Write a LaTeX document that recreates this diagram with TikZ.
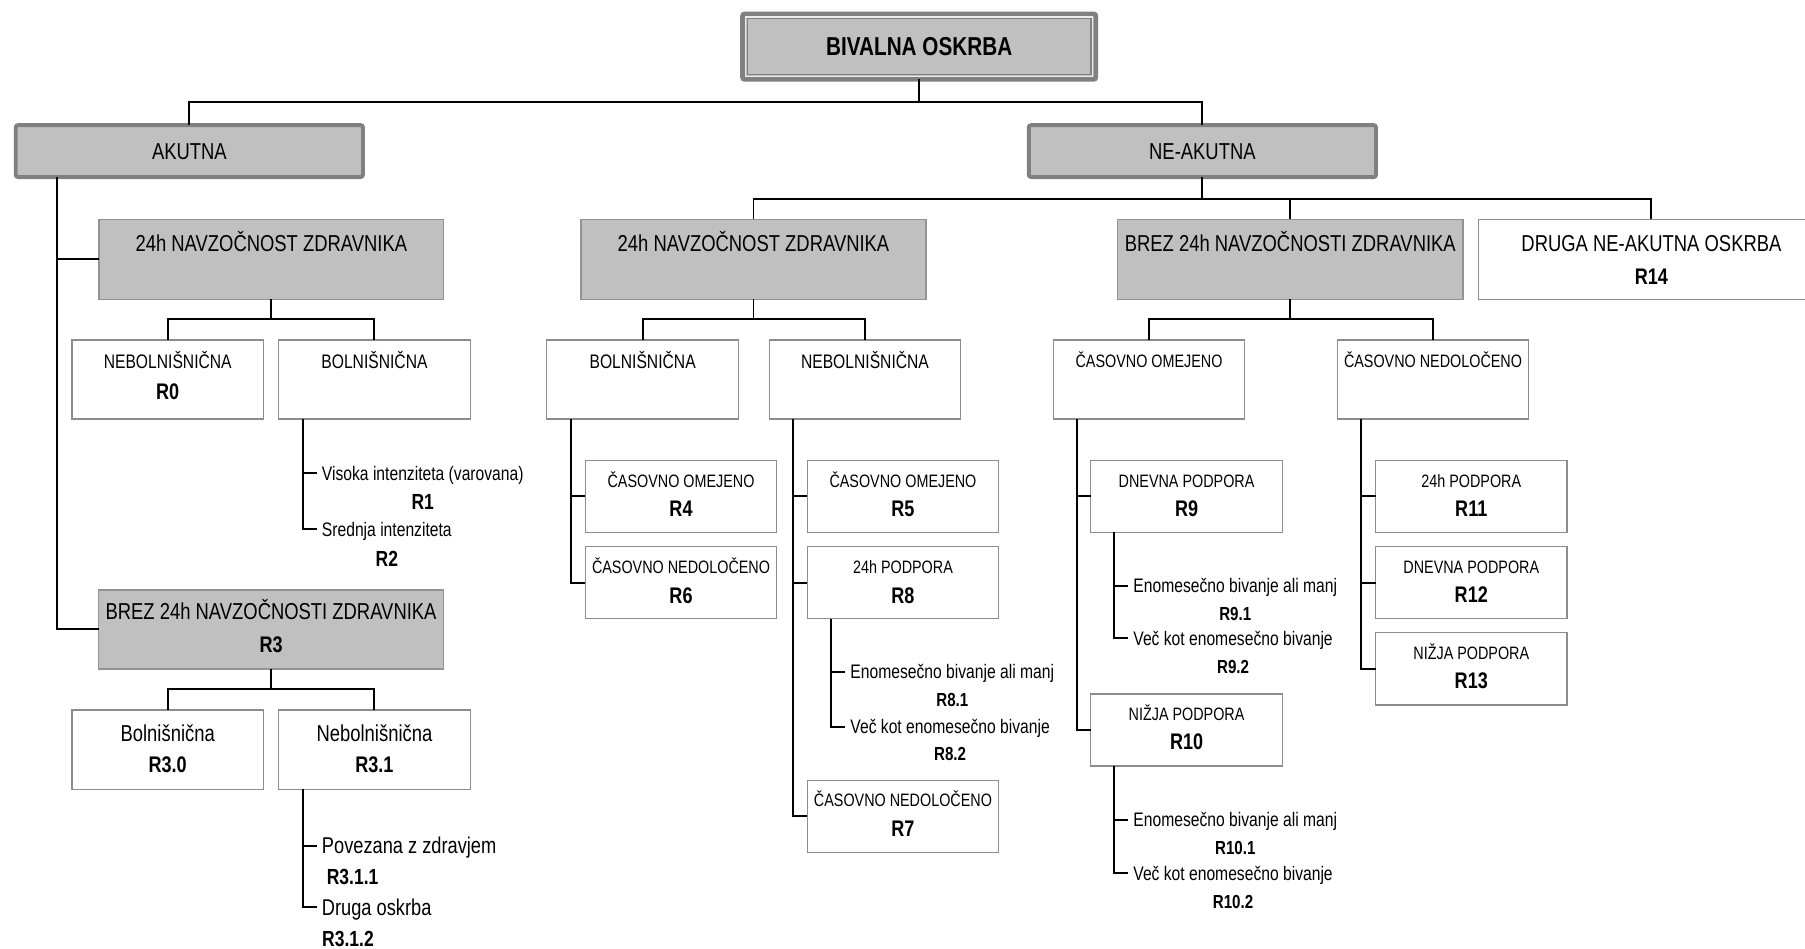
\documentclass[tikz,border=0pt]{standalone}
\usepackage{fontspec}
\setmainfont{Liberation Sans}[FakeStretch=0.8]
\usetikzlibrary{calc}
\definecolor{boxgray}{HTML}{C0C0C0}
\definecolor{edgegray}{HTML}{808080}
\definecolor{thingray}{HTML}{8C8C8C}
% \bx{name}{style}{x1}{y1}{x2}{y2}: empty box node spanning the given corners
\newcommand{\bx}[6]{\node[#2, minimum width={(#5-#3)*0.5pt}, minimum height={(#6-#4)*0.5pt}] (#1) at ({(#3+#5)/2},{(#4+#6)/2}) {};}
\begin{document}
\begin{tikzpicture}[x=0.5pt, y=-0.5pt,
  box/.style={rectangle, draw=thingray, line width=0.6pt, fill=white, inner sep=0pt, outer sep=0pt},
  gbox/.style={box, fill=boxgray, draw=edgegray!85},
  kbox/.style={box, fill=boxgray, draw=edgegray, line width=1.7pt, rounded corners=1pt},
  tbox/.style={box, fill=boxgray, draw=edgegray, line width=2pt, rounded corners=1pt},
  link/.style={draw=black, line width=0.85pt},
  fTitle/.style={font=\fontsize{11.25}{13}\selectfont\bfseries, text height=8.1pt, text depth=0pt, inner sep=0pt},
  fHdr/.style={font=\fontsize{10}{12}\selectfont, text height=7.16pt, text depth=0pt, inner sep=0pt},
  fMid/.style={font=\fontsize{8.5}{10}\selectfont, text height=6.09pt, text depth=0pt, inner sep=0pt},
  fSm/.style={font=\fontsize{7.8}{9}\selectfont, text height=5.58pt, text depth=0pt, inner sep=0pt},
  fR/.style={font=\fontsize{9.8}{11}\selectfont\bfseries, text height=7.02pt, text depth=0pt, inner sep=0pt},
  fRl/.style={font=\fontsize{9.5}{11}\selectfont\bfseries, text height=6.8pt, text depth=0pt, inner sep=0pt},
  fRs/.style={font=\fontsize{8.2}{10}\selectfont\bfseries, text height=5.87pt, text depth=0pt, inner sep=0pt},
  fLeaf/.style={font=\fontsize{8.5}{10}\selectfont, text height=6.09pt, text depth=0pt, inner ysep=0pt, inner xsep=2pt, anchor=west},
  fLeafB/.style={font=\fontsize{9.9}{12}\selectfont, text height=7.09pt, text depth=0pt, inner ysep=0pt, inner xsep=2pt, anchor=west}
]
\useasboundingbox (0,0) rectangle (1568,824);
\clip (0,0) rectangle (1568,824);
\fill[white] (0,0) rectangle (1568,824);

% ---------- boxes ----------
\bx{bival}{tbox}{645}{12}{952}{69}
\draw[white!92!black, line width=0.6pt] ($(bival.north west)+(2.8,2.8)$) rectangle ($(bival.south east)+(-2.8,-2.8)$);
\draw[edgegray, line width=0.5pt] ($(bival.north west)+(4.3,4.3)$) rectangle ($(bival.south east)+(-4.3,-4.3)$);

\bx{akut}{kbox}{13.7}{108.7}{315.3}{153.8}
\bx{neak}{kbox}{893.7}{108.7}{1195.3}{153.8}

\bx{a24}{gbox}{86}{190.5}{385.5}{260}
\bx{aNeb}{box}{62.7}{295.4}{228.7}{364}
\bx{aBol}{box}{242}{295.4}{408.6}{364}
\bx{aBrez}{gbox}{85.6}{512.5}{385.3}{581}
\bx{r30}{box}{62.7}{616.7}{228.7}{685.7}
\bx{r31}{box}{242}{616.7}{408.6}{685.7}

\bx{n24}{gbox}{504.7}{190.5}{804.4}{260}
\bx{nBrez}{gbox}{970.8}{190.5}{1270.9}{260}
\bx{druga}{box}{1284.6}{190.5}{1583.4}{260}

\bx{mBol}{box}{475}{295.4}{641.5}{364}
\bx{mNeb}{box}{668.3}{295.4}{834.5}{364}
\bx{r4}{box}{508.5}{399.9}{674.7}{462.4}
\bx{r6}{box}{508.5}{474.9}{674.7}{537.4}
\bx{r5}{box}{701.3}{399.9}{867.5}{462.4}
\bx{r8}{box}{701.3}{474.9}{867.5}{537.4}
\bx{r7}{box}{701.3}{677.9}{867.5}{740.4}

\bx{cOm}{box}{915}{295.4}{1081.3}{364}
\bx{cNed}{box}{1161.7}{295.4}{1328}{364}
\bx{r9}{box}{947.5}{399.9}{1114}{462.4}
\bx{r10}{box}{947.5}{602.9}{1114}{665.4}
\bx{r11}{box}{1195}{399.9}{1361.2}{462.4}
\bx{r12}{box}{1195}{474.9}{1361.2}{537.4}
\bx{r13}{box}{1195}{549.6}{1361.2}{612.4}

% ---------- box texts ----------
\node[fTitle] (bivalT) at (bival.center) {BIVALNA OSKRBA};
\node[fHdr] (akutT) at (akut.center) {AKUTNA};
\node[fHdr] (neakT) at (neak.center) {NE-AKUTNA};

\node[fHdr] (a24T) at ($(a24.north)+(0,20.5)$) {24h NAVZOČNOST ZDRAVNIKA};
\node[fMid] (aNebT) at ($(aNeb.north)+(0,18.6)$) {NEBOLNIŠNIČNA};
\node[fR]   (aNebR) at ($(aNeb.north)+(0,44.6)$) {R0};
\node[fMid] (aBolT) at ($(aBol.north)+(0,18.6)$) {BOLNIŠNIČNA};
\node[fHdr] (aBrezT) at ($(aBrez.north)+(0,18.5)$) {BREZ 24h NAVZOČNOSTI ZDRAVNIKA};
\node[fR]   (aBrezR) at ($(aBrez.north)+(0,47.5)$) {R3};
\node[fHdr] (r30T) at ($(r30.north)+(0,20.2)$) {Bolnišnična};
\node[fR]   (r30R) at ($(r30.north)+(0,47.2)$) {R3.0};
\node[fHdr] (r31T) at ($(r31.north)+(0,20.2)$) {Nebolnišnična};
\node[fR]   (r31R) at ($(r31.north)+(0,47.2)$) {R3.1};

\node[fHdr] (n24T) at ($(n24.north)+(0,20.5)$) {24h NAVZOČNOST ZDRAVNIKA};
\node[fHdr] (nBrezT) at ($(nBrez.north)+(0,20.5)$) {BREZ 24h NAVZOČNOSTI ZDRAVNIKA};
\node[fHdr] (drugaT) at ($(druga.north)+(0.6,20.5)$) {DRUGA NE-AKUTNA OSKRBA};
\node[fR]   (drugaR) at ($(druga.north)+(0.6,49.5)$) {R14};

\node[fMid] (mBolT) at ($(mBol.north)+(0,18.8)$) {BOLNIŠNIČNA};
\node[fMid] (mNebT) at ($(mNeb.north)+(0,18.8)$) {NEBOLNIŠNIČNA};
\node[fSm] (r4T) at ($(r4.north)+(0,18)$) {ČASOVNO OMEJENO};
\node[fR]  (r4R) at ($(r4.north)+(0,42)$) {R4};
\node[fSm] (r6T) at ($(r6.north)+(0,17.5)$) {ČASOVNO NEDOLOČENO};
\node[fR]  (r6R) at ($(r6.north)+(0,42)$) {R6};
\node[fSm] (r5T) at ($(r5.north)+(0,18)$) {ČASOVNO OMEJENO};
\node[fR]  (r5R) at ($(r5.north)+(0,42)$) {R5};
\node[fSm] (r8T) at ($(r8.north)+(0,17.5)$) {24h PODPORA};
\node[fR]  (r8R) at ($(r8.north)+(0,42)$) {R8};
\node[fSm] (r7T) at ($(r7.north)+(0,17.3)$) {ČASOVNO NEDOLOČENO};
\node[fR]  (r7R) at ($(r7.north)+(0,41.7)$) {R7};

\node[fSm] (cOmT) at ($(cOm.north)+(0,17.9)$) {ČASOVNO OMEJENO};
\node[fSm] (cNedT) at ($(cNed.north)+(0,17.9)$) {ČASOVNO NEDOLOČENO};
\node[fSm] (r9T) at ($(r9.north)+(0,17.8)$) {DNEVNA PODPORA};
\node[fR]  (r9R) at ($(r9.north)+(0,41.8)$) {R9};
\node[fSm] (r10T) at ($(r10.north)+(0,17.6)$) {NIŽJA PODPORA};
\node[fR]  (r10R) at ($(r10.north)+(0,41.4)$) {R10};
\node[fSm] (r11T) at ($(r11.north)+(0,17.8)$) {24h PODPORA};
\node[fR]  (r11R) at ($(r11.north)+(0,41.8)$) {R11};
\node[fSm] (r12T) at ($(r12.north)+(0,17.8)$) {DNEVNA PODPORA};
\node[fR]  (r12R) at ($(r12.north)+(0,41.8)$) {R12};
\node[fSm] (r13T) at ($(r13.north)+(0,17.8)$) {NIŽJA PODPORA};
\node[fR]  (r13R) at ($(r13.north)+(0,41.8)$) {R13};

% ---------- leaf entries ----------
\node[fLeaf] (t1) at (275.3,411) {Visoka intenziteta (varovana)};
\node[fRl] (t1R) at (t1.center |- 0,435.8) {R1};
\node[fLeaf] (t2) at (275.3,459.6) {Srednja intenziteta};
\node[fRl] (t2R) at (t2.center |- 0,485) {R2};

\node[fLeafB] (t311) at (275.3,734.6) {Povezana z zdravjem};
\node[fRl, anchor=west] (t311R) at (283.5,761.5) {R3.1.1};
\node[fLeafB] (t312) at (275.3,788) {Druga oskrba};
\node[fRl, anchor=west] (t312R) at (279.5,815.7) {R3.1.2};

\node[fLeaf] (t81) at (734.4,583.5) {Enomesečno bivanje ali manj};
\node[fRs] (t81R) at (t81.center |- 0,608) {R8.1};
\node[fLeaf] (t82) at (734.4,631.2) {Več kot enomesečno bivanje};
\node[fRs] (t82R) at (t82.center |- 0,655) {R8.2};

\node[fLeaf] (t91) at (980.2,509) {Enomesečno bivanje ali manj};
\node[fRs] (t91R) at (t91.center |- 0,532.8) {R9.1};
\node[fLeaf] (t92) at (980.2,554.5) {Več kot enomesečno bivanje};
\node[fRs] (t92R) at (t92.center |- 0,579.1) {R9.2};

\node[fLeaf] (t101) at (980.2,712.3) {Enomesečno bivanje ali manj};
\node[fRs] (t101R) at (t101.center |- 0,736.3) {R10.1};
\node[fLeaf] (t102) at (980.2,758.6) {Več kot enomesečno bivanje};
\node[fRs] (t102R) at (t102.center |- 0,783.2) {R10.2};

% ---------- connectors ----------
\draw[link] (bival.south) -- ++(0,20) -| (akut.north);
\draw[link] (bival.south) -- ++(0,20) -| (neak.north);

% acute branch
\draw[link] ($(akut.south west)+(35.8,0)$) coordinate (akx) |- (aBrez.west);
\draw[link] (akx |- a24.west) -- (a24.west);
\draw[link] (a24.south) -- ++(0,17.4) -| (aNeb.north);
\draw[link] (a24.south) -- ++(0,17.4) -| (aBol.north);
\draw[link] ($(aBol.south west)+(20.8,0)$) coordinate (abx) |- (t2.west);
\draw[link] (abx |- t1.west) -- (t1.west);
\draw[link] (aBrez.south) -- ++(0,17.5) -| (r30.north);
\draw[link] (aBrez.south) -- ++(0,17.5) -| (r31.north);
\draw[link] ($(r31.south west)+(20.8,0)$) coordinate (rbx) |- (t312.west);
\draw[link] (rbx |- t311.west) -- (t311.west);

% non-acute branch
\draw[link] (neak.south) -- ++(0,19.1) -| (n24.north);
\draw[link] (neak.south) -- ++(0,19.1) -| (nBrez.north);
\draw[link] (neak.south) -- ++(0,19.1) -| (druga.north);

\draw[link] (n24.south) -- ++(0,17.4) -| (mBol.north);
\draw[link] (n24.south) -- ++(0,17.4) -| (mNeb.north);
\draw[link] ($(mBol.south west)+(20.7,0)$) coordinate (mbx) |- (r6.west);
\draw[link] (mbx |- r4.west) -- (r4.west);
\draw[link] ($(mNeb.south west)+(20.3,0)$) coordinate (mnx) |- (r7.west);
\draw[link] (mnx |- r5.west) -- (r5.west);
\draw[link] (mnx |- r8.west) -- (r8.west);
\draw[link] ($(r8.south west)+(20.6,0)$) coordinate (r8x) |- (t82.west);
\draw[link] (r8x |- t81.west) -- (t81.west);

\draw[link] (nBrez.south) -- ++(0,17.4) -| (cOm.north);
\draw[link] (nBrez.south) -- ++(0,17.4) -| (cNed.north);
\draw[link] ($(cOm.south west)+(20.3,0)$) coordinate (cox) |- (r10.west);
\draw[link] (cox |- r9.west) -- (r9.west);
\draw[link] ($(r9.south west)+(20.2,0)$) coordinate (r9x) |- (t92.west);
\draw[link] (r9x |- t91.west) -- (t91.west);
\draw[link] ($(r10.south west)+(20.2,0)$) coordinate (r10x) |- (t102.west);
\draw[link] (r10x |- t101.west) -- (t101.west);
\draw[link] ($(cNed.south west)+(20.3,0)$) coordinate (cnx) |- (r13.west);
\draw[link] (cnx |- r11.west) -- (r11.west);
\draw[link] (cnx |- r12.west) -- (r12.west);
\end{tikzpicture}
\end{document}
